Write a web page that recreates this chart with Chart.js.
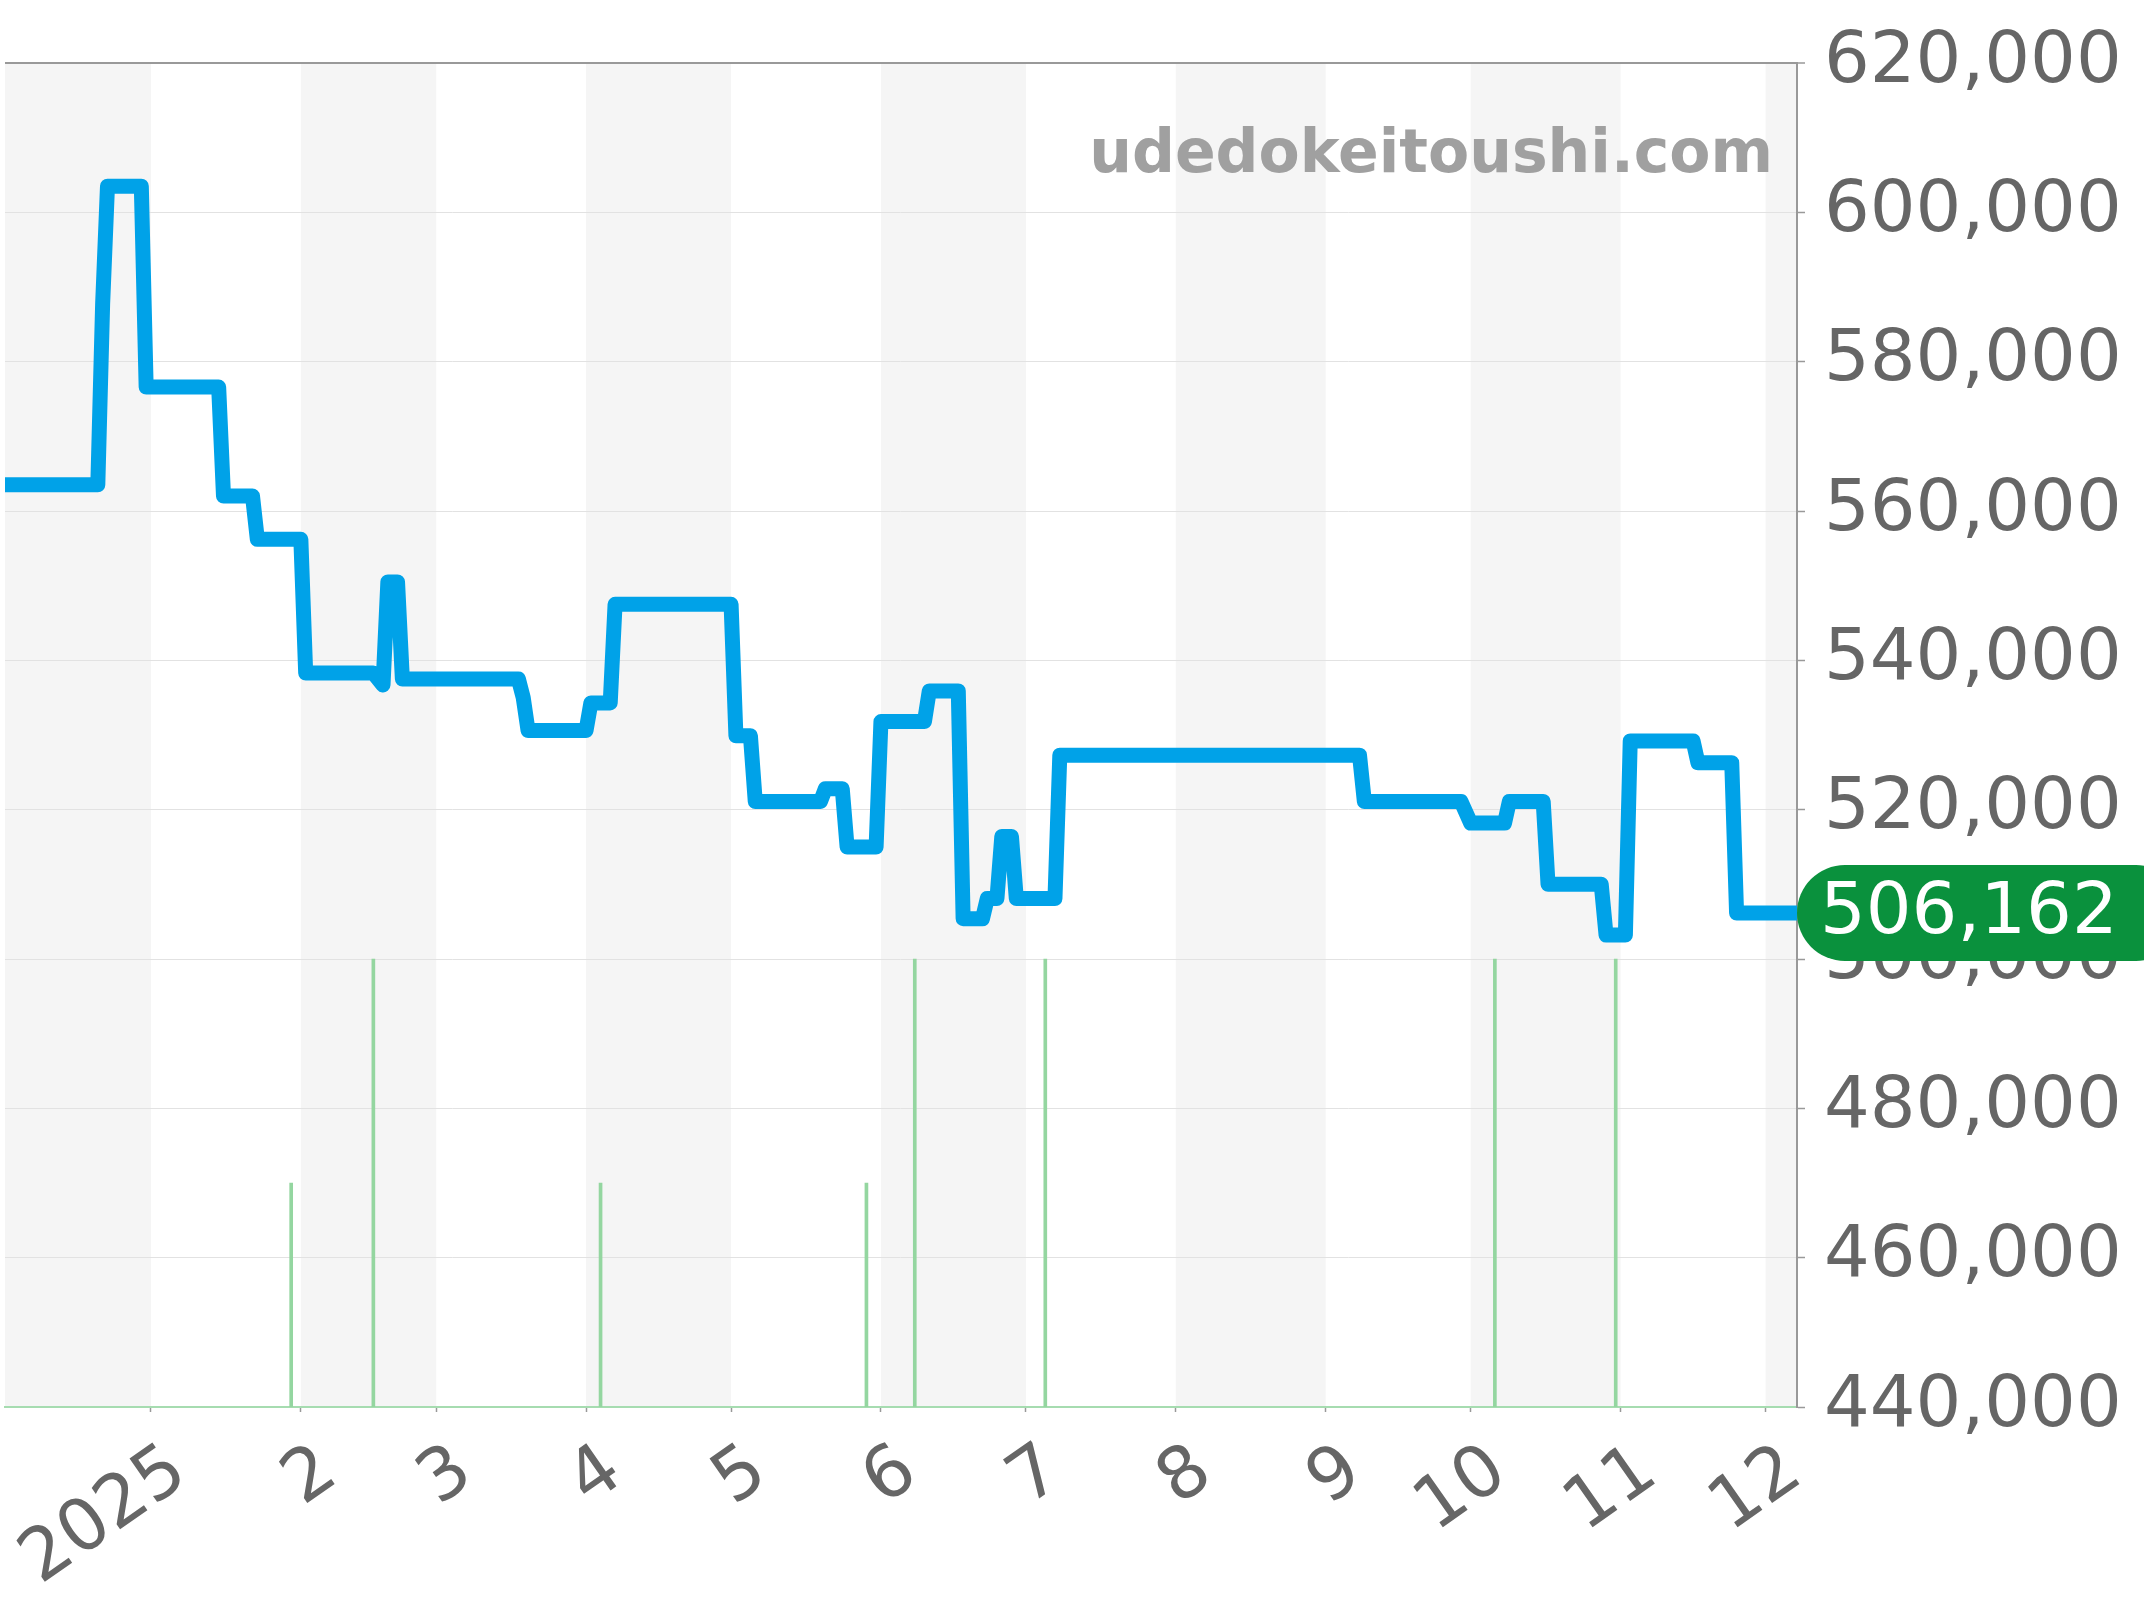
<!DOCTYPE html>
<html>
<head>
<meta charset="utf-8">
<script src="https://cdn.jsdelivr.net/npm/chart.js@4.4.1/dist/chart.umd.min.js"></script>
<style>
html, body { margin: 0; padding: 0; background: #fff; }
canvas { display: block; }
</style>
</head>
<body>
<canvas id="priceChart" width="2144" height="1600"></canvas>
<script>
// x values are days counted from 2025-01-01 (0 = Jan 1, -31 = Dec 1 2024)
const priceDays = [-30.2, -11, -10, -9, -2, -1, 14, 15, 21, 22, 31, 32, 46, 48, 49, 51, 52,
  76, 77, 78, 90, 91, 95, 96, 120, 121, 124, 125, 138.5, 139.5, 143, 144, 150, 151,
  160, 161, 167, 168, 172, 173, 175, 176, 178, 179, 187, 188, 250, 251, 271, 273,
  280, 281, 288, 289, 300, 301, 305, 306, 319, 320, 327, 328, 340.5];
const priceValues = [563500, 563500, 587800, 603500, 603500, 576600, 576600, 562000, 562000,
  556200, 556200, 538300, 538300, 536700, 550500, 550500, 537500, 537500, 535000, 530600,
  530600, 534300, 534300, 547500, 547500, 529900, 529900, 521100, 521100, 522800, 522800,
  515000, 515000, 531800, 531800, 535900, 535900, 505400, 505400, 508100, 508100, 516400,
  516400, 508100, 508100, 527300, 527300, 521100, 521100, 518200, 518200, 521100, 521100,
  510000, 510000, 503200, 503200, 529200, 529200, 526300, 526300, 506162, 506162];

// green marks at the bottom (1 = short, 2 = tall)
const eventDays = [29, 46, 93, 148, 158, 185, 278, 303];
const eventCounts = [1, 2, 1, 1, 2, 2, 2, 2];

const monthStartDays = [0, 31, 59, 90, 120, 151, 181, 212, 243, 273, 304, 334];
const monthLabels = ['2025', '2', '3', '4', '5', '6', '7', '8', '9', '10', '11', '12'];

// shaded (even) months
const bandStarts = [-31, 31, 90, 151, 212, 273, 334];
const bandEnds = [0, 59, 120, 181, 243, 304, 365];

const yMin = 440000;
const yMax = 620000;
const yStep = 20000;

const lastValue = priceValues[priceValues.length - 1];

Chart.defaults.font.family = '"DejaVu Sans", sans-serif';

const decorations = {
  id: 'decorations',
  beforeDraw(chart) {
    const { ctx, chartArea: a } = chart;
    const x = chart.scales.x;
    ctx.save();
    ctx.beginPath();
    ctx.rect(a.left, a.top, a.right - a.left, a.bottom - a.top);
    ctx.clip();
    ctx.fillStyle = '#f5f5f5';
    bandStarts.forEach((s, i) => {
      const x0 = x.getPixelForValue(s);
      const x1 = x.getPixelForValue(bandEnds[i]);
      ctx.fillRect(x0, a.top, x1 - x0, a.bottom - a.top);
    });
    ctx.restore();
  },
  beforeDatasetsDraw(chart) {
    const { ctx, chartArea: a } = chart;
    ctx.save();
    ctx.font = 'bold 60px "DejaVu Sans"';
    ctx.fillStyle = '#a0a0a0';
    ctx.textAlign = 'right';
    ctx.textBaseline = 'alphabetic';
    ctx.fillText('udedokeitoushi.com', a.right - 24, a.top + 109);
    ctx.restore();
  },
  afterDraw(chart) {
    const { ctx, chartArea: a } = chart;
    const y = chart.scales.y.getPixelForValue(lastValue);
    const h = 96;
    ctx.save();
    ctx.fillStyle = '#0a913d';
    ctx.beginPath();
    ctx.roundRect(a.right, y - h / 2, chart.width + 40 - a.right, h, h / 2);
    ctx.fill();
    ctx.fillStyle = '#ffffff';
    ctx.font = '72px "DejaVu Sans"';
    ctx.textAlign = 'left';
    ctx.textBaseline = 'middle';
    ctx.fillText(lastValue.toLocaleString('en-US'), a.right + 23, y + 1);
    ctx.restore();
  }
};

new Chart(document.getElementById('priceChart'), {
  type: 'line',
  data: {
    datasets: [
      {
        label: 'price',
        data: priceDays.map((d, i) => ({ x: d, y: priceValues[i] })),
        borderColor: '#00a2e8',
        borderWidth: 15,
        borderJoinStyle: 'round',
        pointRadius: 0,
        tension: 0,
        fill: false,
        order: 0
      },
      {
        type: 'bar',
        label: 'events',
        data: eventDays.map((d, i) => ({ x: d, y: eventCounts[i] })),
        backgroundColor: '#94d6a0',
        barThickness: 3,
        yAxisID: 'yv',
        order: 1
      }
    ]
  },
  plugins: [decorations],
  options: {
    responsive: false,
    devicePixelRatio: 1,
    animation: false,
    events: [],
    layout: { padding: { left: 5, top: 63, right: 0, bottom: 0 } },
    plugins: {
      legend: { display: false },
      tooltip: { enabled: false }
    },
    scales: {
      x: {
        type: 'linear',
        min: -30.2,
        max: 340.5,
        offset: false,
        afterBuildTicks: (s) => { s.ticks = monthStartDays.map(v => ({ value: v })); },
        afterFit: (s) => { s.height = 193; s.paddingLeft = 0; s.paddingRight = 0; },
        ticks: {
          autoSkip: false,
          minRotation: 35,
          maxRotation: 35,
          padding: 34,
          labelOffset: 29,
          color: '#666',
          font: { size: 72, lineHeight: 0.62 },
          callback: (v, i) => monthLabels[i]
        },
        grid: { offset: false, drawOnChartArea: false, drawTicks: true, tickLength: 5, tickColor: '#999', tickWidth: 1.5 },
        border: { display: true, color: '#a6dcb0', width: 2, dash: [3.4, 1.4] }
      },
      y: {
        position: 'right',
        min: yMin,
        max: yMax,
        afterFit: (s) => { s.width = 347; },
        ticks: {
          stepSize: yStep,
          padding: 19,
          color: '#666',
          font: { size: 72 },
          callback: (v) => v.toLocaleString('en-US')
        },
        grid: {
          color: (c) => (c.tick && c.tick.value === yMax ? '#999' : '#e2e2e2'),
          lineWidth: (c) => (c.tick && c.tick.value === yMax ? 2 : 1),
          tickLength: 8,
          tickColor: '#999',
          tickWidth: 1.5
        },
        border: { color: '#999', width: 2 }
      },
      yv: { display: false, min: 0, max: 6 }
    }
  }
});
</script>
</body>
</html>
